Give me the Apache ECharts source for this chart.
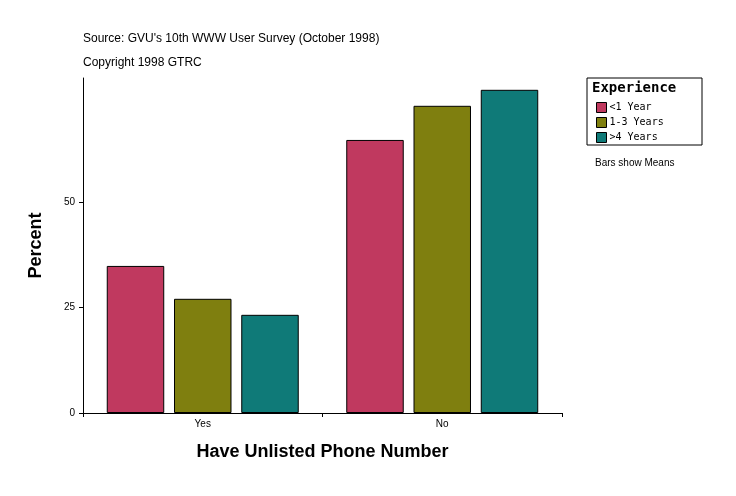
<!DOCTYPE html>
<html><head><meta charset="utf-8">
<script src="https://cdn.jsdelivr.net/npm/echarts@6/dist/echarts.min.js"></script>
<style>html,body{margin:0;padding:0;background:#fff}#c{width:736px;height:496px}</style>
</head><body><div id="c"></div>
<script>
const categories = ["Yes", "No"];
const seriesNames = ["<1 Year", "1-3 Years", ">4 Years"];
const lessThan1 = [34.9, 64.8];
const oneTo3 = [27.1, 72.9];
const over4 = [23.3, 76.7];
const yTicks = [0, 25, 50, 75];
const colors = ["#C0395F", "#7F7F0F", "#0F7A78"];
const chart = echarts.init(document.getElementById('c'));
const mk = (name, data, i) => ({
  name, type: 'bar', data, barWidth: '24%', barGap: '17%',
  itemStyle: {color: colors[i], borderColor: '#000', borderWidth: 1}
});
chart.setOption({
  animation: false,
  grid: {left: 83, top: 78, width: 479, height: 335},
  graphic: [
    {type: 'text', left: 83, top: 33, style: {text: "Source: GVU's 10th WWW User Survey (October 1998)", font: '12px Arial', fill: '#000'}},
    {type: 'text', left: 83, top: 57, style: {text: "Copyright 1998 GTRC", font: '12px Arial', fill: '#000'}},
    {type: 'rect', shape: {x: 587, y: 78, width: 115, height: 67}, style: {fill: 'none', stroke: '#000', lineWidth: 1}},
    {type: 'text', left: 592, top: 81, style: {text: "Experience", font: 'bold 14px "DejaVu Sans Mono"', fill: '#000'}},
    {type: 'text', left: 595, top: 158, style: {text: "Bars show Means", font: '10px Arial', fill: '#000'}}
  ],
  legend: {
    orient: 'vertical', left: 591, top: 97, itemWidth: 10, itemHeight: 10, itemGap: 4,
    data: seriesNames, icon: 'rect',
    textStyle: {fontFamily: 'DejaVu Sans Mono', fontSize: 10, color: '#000', padding: [0,0,0,-2]},
    itemStyle: {borderColor: '#000', borderWidth: 1}
  },
  xAxis: {
    type: 'category', data: categories,
    name: 'Have Unlisted Phone Number', nameLocation: 'middle', nameGap: 30,
    nameTextStyle: {fontFamily: 'Arial', fontWeight: 'bold', fontSize: 18, color: '#000'},
    axisLine: {lineStyle: {color: '#000'}}, axisTick: {show: true, alignWithLabel: false, interval: 0, length: 4},
    axisLabel: {color: '#000', fontSize: 10, fontFamily: 'Arial', margin: 6}
  },
  yAxis: {
    type: 'value', min: 0, max: 79.5, interval: 25,
    name: 'Percent', nameLocation: 'middle', nameGap: 38,
    nameTextStyle: {fontFamily: 'Arial', fontWeight: 'bold', fontSize: 18, color: '#000'},
    axisLine: {show: true, lineStyle: {color: '#000'}}, axisTick: {show: true, length: 4},
    axisLabel: {color: '#000', fontSize: 10, fontFamily: 'Arial', customValues: yTicks, showMaxLabel: false},
    axisTick: {show: true, length: 4, customValues: yTicks},
    splitLine: {show: false}
  },
  series: [mk(seriesNames[0], lessThan1, 0), mk(seriesNames[1], oneTo3, 1), mk(seriesNames[2], over4, 2)]
});
</script></body></html>
